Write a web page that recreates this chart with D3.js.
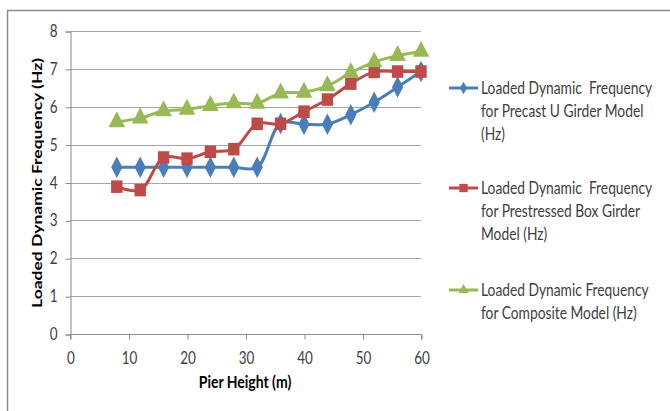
<!DOCTYPE html>
<html>
<head>
<meta charset="utf-8">
<script src="https://cdn.jsdelivr.net/npm/d3@7"></script>
<style>
  body { margin: 0; background: #fff; }
  svg { display: block; font-family: Lato, "Open Sans", sans-serif; }
</style>
</head>
<body>
<svg id="chart" width="670" height="411"></svg>
<script>
// Pier heights (m)
const pierHeights = [8, 12, 16, 20, 24, 28, 32, 36, 40, 44, 48, 52, 56, 60];
// Loaded dynamic frequencies (Hz)
const precastU = [4.4, 4.4, 4.4, 4.4, 4.4, 4.4, 4.4, 5.56, 5.54, 5.54, 5.79, 6.12, 6.52, 6.93];
const prestressedBox = [3.89, 3.8, 4.66, 4.63, 4.81, 4.88, 5.55, 5.55, 5.87, 6.19, 6.61, 6.92, 6.93, 6.93];
const composite = [5.6, 5.7, 5.89, 5.93, 6.03, 6.1, 6.09, 6.36, 6.38, 6.55, 6.9, 7.18, 7.35, 7.46];
const xTicks = [0, 10, 20, 30, 40, 50, 60];
const yTicks = [0, 1, 2, 3, 4, 5, 6, 7, 8];
const seriesNames = [
  ["Loaded Dynamic  Frequency", "for Precast U Girder Model", "(Hz)"],
  ["Loaded Dynamic  Frequency", "for Prestressed Box Girder", "Model (Hz)"],
  ["Loaded Dynamic Frequency", "for Composite Model (Hz)"]
];
const seriesColors = ["#4a7ebb", "#be4b48", "#98b954"];
const seriesSymbols = [d3.symbolDiamond, d3.symbolSquare, d3.symbolTriangle];
const seriesValues = [precastU, prestressedBox, composite];

// glyphs are drawn a little taller than wide
const STRETCH = 1.25;

const svg = d3.select("#chart");

// outer frame
svg.append("rect")
  .attr("x", 7.5).attr("y", 10.5)
  .attr("width", 700).attr("height", 420)
  .attr("fill", "none").attr("stroke", "#8c8c8c").attr("stroke-width", 1.5);

const x = d3.scaleLinear().domain([0, 60]).range([70, 421]);
const y = d3.scaleLinear().domain([0, 8]).range([334, 31]);

// gridlines
svg.append("g").selectAll("line").data(yTicks.filter(d => d > 0)).join("line")
  .attr("x1", x(0)).attr("x2", x(60))
  .attr("y1", d => Math.round(y(d)) + 0.5).attr("y2", d => Math.round(y(d)) + 0.5)
  .attr("stroke", "#a6a6a6").attr("stroke-width", 1);

// y axis
const yAxis = svg.append("g")
  .attr("transform", `translate(${x(0) + 0.5},0.5)`)
  .call(d3.axisLeft(y).tickValues(yTicks).tickSize(5).tickFormat(d3.format("d")));
// x axis
const xAxis = svg.append("g")
  .attr("transform", `translate(0.5,${Math.round(y(0)) + 0.5})`)
  .call(d3.axisBottom(x).tickValues(xTicks).tickSize(5).tickFormat(d3.format("d")));

[yAxis, xAxis].forEach(a => {
  a.select(".domain").attr("stroke", "#8c8c8c");
  a.selectAll(".tick line").attr("stroke", "#8c8c8c");
  a.selectAll(".tick text").attr("fill", "#404040").style("font-size", "13.5px")
    .style("font-family", "Lato, 'Open Sans', sans-serif")
    .attr("x", 0).attr("y", 0).attr("dy", null);
});
yAxis.selectAll(".tick text").attr("transform", `translate(-13,5) scale(1,${STRETCH})`);
xAxis.selectAll(".tick text").attr("transform", `translate(0,29) scale(1,${STRETCH})`);
xAxis.select(".domain").attr("d", `M${x(0)},5V0H${x(60)}V5`);

// axis titles
svg.append("text")
  .attr("transform", `translate(245,388) scale(1,${STRETCH})`)
  .attr("text-anchor", "middle")
  .style("font-size", "14px").style("font-weight", "bold").attr("fill", "#000")
  .text("Pier Height (m)");
svg.append("text")
  .attr("transform", `translate(42,183) rotate(-90) scale(${STRETCH},1)`)
  .attr("text-anchor", "middle")
  .style("font-size", "14px").style("font-weight", "bold").attr("fill", "#000")
  .text("Loaded Dynamic Frequency (Hz)");

// smoothed series lines with markers
const line = d3.line()
  .x((d, i) => x(pierHeights[i]))
  .y(d => y(d))
  .curve(d3.curveCatmullRom.alpha(0.5));

seriesValues.forEach((vals, s) => {
  svg.append("path").datum(vals)
    .attr("d", line)
    .attr("fill", "none")
    .attr("stroke", seriesColors[s])
    .attr("stroke-width", 3);
});
const markerSizes = [110, 130, 120];
seriesValues.forEach((vals, s) => {
  svg.append("g").selectAll("path").data(vals).join("path")
    .attr("transform", (d, i) => `translate(${x(pierHeights[i])},${y(d)}) scale(1,1.1)`)
    .attr("d", d3.symbol().type(seriesSymbols[s]).size(markerSizes[s]))
    .attr("fill", seriesColors[s]);
});

// legend
const legendTop = [88, 188, 290];
seriesNames.forEach((lines, s) => {
  const g = svg.append("g").attr("transform", `translate(0,${legendTop[s]})`);
  g.append("line").attr("x1", 449).attr("x2", 478).attr("y1", 0).attr("y2", 0)
    .attr("stroke", seriesColors[s]).attr("stroke-width", 3);
  g.append("path").attr("transform", "translate(463.5,0)")
    .attr("d", d3.symbol().type(seriesSymbols[s]).size(s === 1 ? 70 : 45))
    .attr("fill", seriesColors[s]);
  lines.forEach((t, k) => {
    g.append("text")
      .attr("transform", `translate(481,${k * 23 + 6}) scale(1,${STRETCH})`)
      .style("font-size", "13.8px").attr("fill", "#404040")
      .style("white-space", "pre")
      .text(t);
  });
});
</script>
</body>
</html>
